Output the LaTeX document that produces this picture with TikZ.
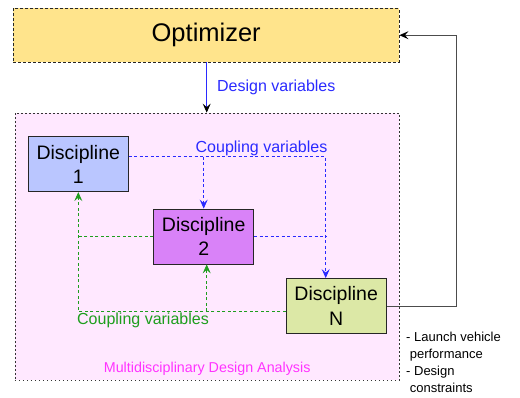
\documentclass[tikz,border=0pt]{standalone}
\usepackage{fontspec}
\setmainfont{Liberation Sans}
\usepackage{xcolor}
\usepackage{tikz}
\usetikzlibrary{arrows.meta,positioning,backgrounds}
\definecolor{optfill}{HTML}{FFE48C}
\definecolor{mdafill}{HTML}{FFE8FF}
\definecolor{d1fill}{HTML}{BAC6FF}
\definecolor{d2fill}{HTML}{D982F8}
\definecolor{dnfill}{HTML}{DCE8A6}
\definecolor{cplblue}{HTML}{2A2AFF}
\definecolor{cplgreen}{HTML}{1E9E1E}
\definecolor{mdatext}{HTML}{FF33FF}

\begin{document}
\begin{tikzpicture}[x=1pt,y=-1pt,
  disc/.style={draw=black!85, line width=0.8pt, minimum width=100pt, minimum height=55pt, inner sep=0pt, align=center, font=\fontsize{19.5}{24.5}\selectfont},
  bluedash/.style={draw=cplblue, line width=0.9pt, dash pattern=on 3pt off 2.5pt, -{Stealth[length=9pt,width=8pt,inset=3.5pt]}},
  greendash/.style={draw=cplgreen, line width=0.9pt, dash pattern=on 3pt off 2.5pt, -{Stealth[length=9pt,width=8pt,inset=3.5pt]}},
  lbl/.style={inner sep=0pt, font=\fontsize{16}{19}\selectfont}]
\useasboundingbox (0,0) rectangle (520,397);
    \node (MDA) [draw=black!80, fill=mdafill, line width=0.8pt, dash pattern=on 1.5pt off 2.5pt, minimum width=384.5pt, minimum height=267pt, inner sep=0pt] at (207.2,246.5) {};
    \node (Optimizer) [draw=black!85, fill=optfill, line width=0.8pt, dash pattern=on 3pt off 2pt, minimum width=385.7pt, minimum height=53.7pt, inner sep=0pt, font=\fontsize{25.5}{30}\selectfont] at (206.2,35.2) {Optimizer};
    \node (Disc1) [disc, fill=d1fill] at (78.3,164.2) {Discipline\\1};
    \node (Disc2) [disc, fill=d2fill] at (203.7,236.5) {Discipline\\2};
    \node (DiscN) [disc, fill=dnfill] at (336.2,306) {Discipline\\N};
    \node (MDAText) [above=5pt of MDA.south, inner sep=0pt, text=mdatext, font=\fontsize{14.3}{17}\selectfont] {Multidisciplinary Design Analysis};
    \node (Outputs) [anchor=north west, inner sep=0pt, align=left, font=\fontsize{13}{17}\selectfont] at (406,332) {- Launch vehicle\\\ performance\\- Design\\\ constraints};
    % design variables
    \draw[cplblue, line width=0.9pt, -{Stealth[length=9pt,width=8pt,inset=3.5pt,black]}] ([xshift=0.5pt]Optimizer.south) -- ([xshift=0.5pt]Optimizer.south |- MDA.north)
        node (DesignVar) [midway, right=10pt, lbl, text=cplblue] {Design variables};
    % coupling variables
    \coordinate (D1out) at ([yshift=7.5pt]Disc1.east);
    \coordinate (DNin) at ([xshift=-10.5pt]DiscN.north);
    \draw[bluedash] (D1out) -| (DNin);
    \draw[bluedash] (D1out -| Disc2.north) -- (Disc2.north);
    \draw[bluedash, -] (Disc2.east) -- (Disc2.east -| DNin);
    \node (CplBlue) [lbl, text=cplblue] at (261.5,148.5) {Coupling variables};
    \coordinate (DNout) at ([yshift=-5pt]DiscN.west);
    \coordinate (D2in) at ([xshift=3pt]Disc2.south);
    \draw[greendash] (DNout) -| (Disc1.south);
    \draw[greendash] (DNout -| D2in) -- (D2in);
    \draw[greendash, -] (Disc2.west) -- (Disc2.west -| Disc1.south);
    \node (CplGreen) [lbl, text=cplgreen] at (143,320) {Coupling variables};
    % feedback
    \draw[black!70, line width=0.9pt, -{Stealth[length=9pt,width=8pt,inset=3.5pt,black]}] (DiscN.east) -- ++(70,0) |- (Optimizer.east);
\end{tikzpicture}
\end{document}
